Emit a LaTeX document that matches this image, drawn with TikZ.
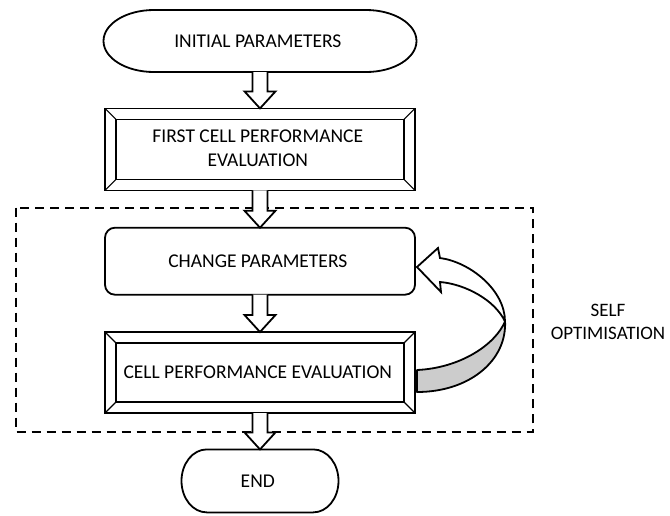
\documentclass[tikz,border=0pt]{standalone}
\usepackage{fontspec}
\setmainfont{Carlito}
\usetikzlibrary{matrix,calc}

% hollow block arrow from the bottom of one node to the top of the next
\newcommand{\blockarrow}[2]{%
  \draw[outline, fill=white] let \p1=(#1.south), \p2=(#2.north) in
    (\x1-7.5pt,\y1) -- (\x1-7.5pt,\y2+17pt) -- (\x1-15.5pt,\y2+17pt) -- (\x1,\y2)
    -- (\x1+15.5pt,\y2+17pt) -- (\x1+7.5pt,\y2+17pt) -- (\x1+7.5pt,\y1);}
% terminator outline with elliptic ends
\newcommand{\terminator}[1]{%
  \draw[outline] let \p1=(#1.north west), \p2=(#1.south east),
    \n1={0.161*(\x2-\x1)}, \n2={(\y1-\y2)/2} in
    (\x1+\n1,\y1) -- (\x2-\n1,\y1) arc[start angle=90, end angle=-90, x radius=\n1, y radius=\n2]
    -- (\x1+\n1,\y2) arc[start angle=270, end angle=90, x radius=\n1, y radius=\n2] -- cycle;}

\begin{document}
\begin{tikzpicture}[x=1pt, y=-1pt,
  outline/.style={line width=1.8pt},
  stadium/.style={},
  roundbox/.style={draw, rounded corners=10pt},
  bevelbox/.style={draw, path picture={
    \draw[line width=1.1pt] ($(path picture bounding box.north west)+(11pt,-11pt)$)
      rectangle ($(path picture bounding box.south east)+(-11pt,11pt)$);
    \foreach \c/\dx/\dy in {north west/11pt/-11pt, north east/-11pt/-11pt,
                            south west/11pt/11pt, south east/-11pt/11pt}
      \draw[line width=1.1pt] (path picture bounding box.\c) -- ++(\dx,\dy);
  }}]
\useasboundingbox (0,0) rectangle (670,515);

\matrix (flow) [matrix of nodes, row sep=35.5pt, inner sep=0pt, outer sep=0pt, anchor=north,
  nodes={outline, minimum width=310pt, align=center, font=\fontsize{19.5}{24}\selectfont}] at (260,10)
{
	|[stadium, minimum width=313pt, minimum height=62pt]| INITIAL PARAMETERS \\
	|[bevelbox, minimum height=82pt]| \begin{tabular}{@{}c@{}}FIRST CELL PERFORMANCE\\EVALUATION\end{tabular} \\
	|[roundbox, minimum height=67pt]| CHANGE PARAMETERS \\
	|[bevelbox, minimum height=81pt]| CELL PERFORMANCE EVALUATION \\
	|[stadium, minimum width=157pt, minimum height=63pt]| END \\
};
\terminator{flow-1-1}
\terminator{flow-5-1}

% self optimisation loop
\draw[outline, dash pattern=on 9pt off 6pt]
  ($(flow-3-1.north west)+(-89pt,20pt)$) rectangle ($(flow-4-1.south east)+(118pt,-19pt)$);
\node[font=\fontsize{19}{23}\selectfont, align=center] (selfopt) at (608,322) {SELF\\OPTIMISATION};

\blockarrow{flow-1-1}{flow-2-1}
\blockarrow{flow-2-1}{flow-3-1}
\blockarrow{flow-3-1}{flow-4-1}
\blockarrow{flow-4-1}{flow-5-1}

\begin{scope}[shift={(flow-4-1.east)}]
  \draw[outline, fill=gray!40, line join=round]
    (2,-2.5) .. controls (45,-4.5) and (80,-27.5) .. (90,-51)
    .. controls (92,-12.5) and (55,19.5) .. (2,19.5) -- cycle;
  \draw[outline, fill=white]
    (25,-114.5) .. controls (55,-110.5) and (90,-82.5) .. (90,-51)
    .. controls (80,-72.5) and (50,-88.5) .. (25,-90.5)
    -- (26,-80.5) -- (2,-105.5) -- (23,-124.5) -- cycle;
\end{scope}
\end{tikzpicture}
\end{document}
